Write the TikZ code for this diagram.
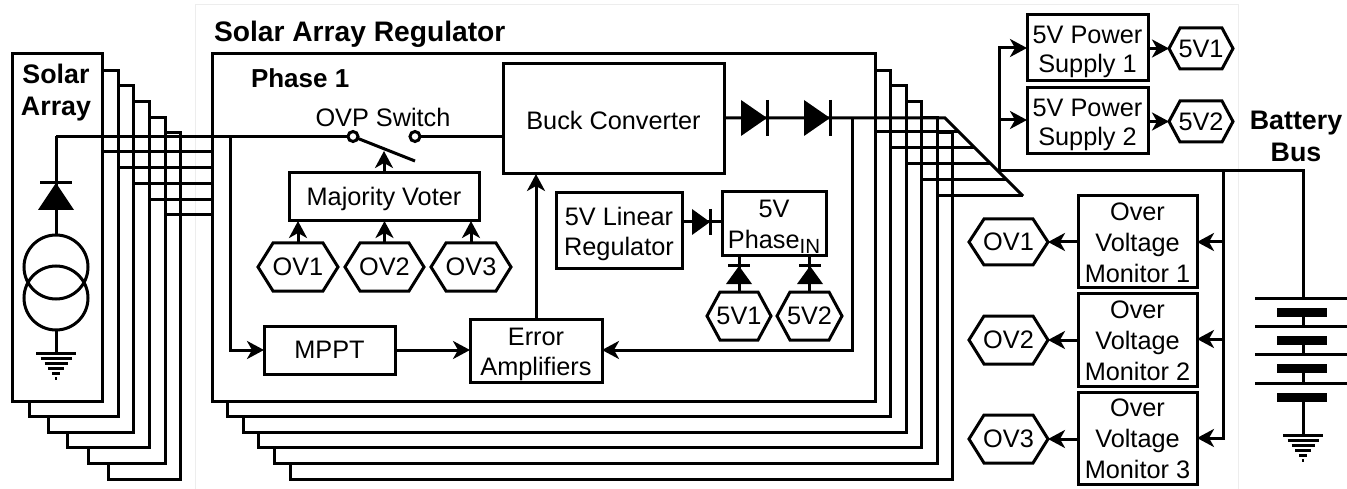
\documentclass[tikz,border=0pt]{standalone}
\usepackage{fontspec}
\setmainfont{Liberation Sans}
\usetikzlibrary{arrows.meta}
\tikzset{
  x=1pt,y=-1pt,
  wire/.style={line width=3pt,line cap=butt,line join=miter},
  arr/.style={wire,-{Stealth[length=17pt,width=18pt,inset=5pt]}},
  bx/.style={draw,line width=3pt,inner sep=0pt,outer sep=0pt},
  stk/.style={bx,fill=white,anchor=north west},
  lab/.style={inner sep=0pt,outer sep=0pt,align=center,font=\fontsize{25.3}{30}\selectfont},
  blab/.style={inner sep=0pt,outer sep=0pt,align=center,font=\fontsize{26.8}{32}\selectfont\bfseries},
  gridline/.style={draw=black!7,line width=1pt},
}
% name, x1, y1, x2, y2, text shift down, text
\newcommand{\boxn}[7]{\node[bx,minimum width={(#4-#2)*1pt},minimum height={(#5-#3)*1pt}] (#1) at ({(#2+#4)/2},{(#3+#5)/2}) {};
  \node[lab] (#1t) at ([yshift=-#6pt]#1.center) {#7};}
\newcommand{\stkn}[5]{\node[stk,minimum width={(#4-#2)*1pt},minimum height={(#5-#3)*1pt}] (#1) at (#2,#3) {};}
% name, x1, y1, x2, y2, inset, text
\newcommand{\hexn}[7]{%
  \node[lab,minimum width={(#4-#2)*1pt},minimum height={(#5-#3)*1pt}] (#1) at ({(#2+#4)/2},{(#3+#5)/2}) {#7};
  \draw[wire] (#1.west) -- ([xshift=#6pt]#1.north west) -- ([xshift=-#6pt]#1.north east) -- (#1.east) -- ([xshift=-#6pt]#1.south east) -- ([xshift=#6pt]#1.south west) -- cycle;}
% diodes: tip x,y, length, half width, bar half width
\newcommand{\dioR}[5]{\fill ({#1-#3},{#2-#4}) -- (#1,#2) -- ({#1-#3},{#2+#4}) -- cycle; \draw[wire] (#1,{#2-#5}) -- (#1,{#2+#5});}
\newcommand{\dioU}[5]{\fill ({#1-#4},{#2+#3}) -- (#1,#2) -- ({#1+#4},{#2+#3}) -- cycle; \draw[wire] ({#1-#5},#2) -- ({#1+#5},#2);}
\newcommand{\gnd}[2]{%
  \foreach \dy/\hw in {0/20,5/15.5,10/11.5,15/8,20/4,25/1}{\draw[line width=3pt] ({#1-\hw},{#2+\dy}) -- ({#1+\hw},{#2+\dy});}}
\begin{document}
\begin{tikzpicture}
\useasboundingbox (0,0) rectangle (1347,489);
% faint frame
\draw[gridline] (195,489) -- (195,5) -- (1238,5) -- (1238,489);
% solar stack
\stkn{sa6}{108}{133}{180}{479}
\stkn{sa5}{88}{118}{165}{463}
\stkn{sa4}{67}{102}{149}{447}
\stkn{sa3}{48}{86}{133}{432}
\stkn{sa2}{29}{71}{118}{416}
\stkn{sa1}{12}{54}{102}{401}
% regulator stack
\stkn{pb6}{290}{133}{952}{479}
\stkn{pb5}{274}{118}{937}{463}
\stkn{pb4}{258}{102}{921}{447}
\stkn{pb3}{243}{86}{906}{432}
\stkn{pb2}{227}{71}{890}{416}
\stkn{ph}{212}{54}{875}{401}
% blocks
\boxn{buck}{503}{64}{724}{174}{1}{Buck Converter}
\boxn{mv}{289}{173}{479}{221}{2}{Majority Voter}
\boxn{lin}{556}{193}{682}{269}{3}{5V Linear\\Regulator}
\boxn{pin}{722}{192}{826}{256}{0}{5V\\[1pt]Phase\smash{\raisebox{-5.5pt}{\fontsize{20.5}{20.5}\selectfont IN}}}
\boxn{mppt}{264}{326}{395}{374}{0}{MPPT}
\boxn{ea}{470}{319}{602}{382}{4}{Error\\Amplifiers}
\boxn{ps1}{1027}{15}{1148}{81}{4}{5V Power\\[-1pt]Supply 1}
\boxn{ps2}{1027}{88}{1148}{154}{4}{5V Power\\[-1pt]Supply 2}
\boxn{m1}{1078}{196}{1197}{287}{1}{Over\\[1pt]Voltage\\[1pt]Monitor 1}
\boxn{m2}{1078}{293}{1197}{386}{1}{Over\\[1pt]Voltage\\[1pt]Monitor 2}
\boxn{m3}{1078}{392}{1197}{484}{1}{Over\\[1pt]Voltage\\[1pt]Monitor 3}
% hexes
\hexn{ova}{258}{243}{338}{291}{15}{OV1}
\hexn{ovb}{345}{243}{424}{291}{15}{OV2}
\hexn{ovc}{431}{243}{511}{291}{15}{OV3}
\hexn{fa}{707}{292}{771}{340}{13}{5V1}
\hexn{fb}{777}{292}{842}{340}{13}{5V2}
\hexn{sa}{1169}{28}{1233}{69}{11}{5V1}
\hexn{sb}{1169}{101}{1233}{142}{11}{5V2}
\hexn{oa}{969}{219}{1048}{265}{15}{OV1}
\hexn{ob}{969}{316}{1048}{364}{15}{OV2}
\hexn{oc}{969}{415}{1048}{463}{15}{OV3}
% titles
\node[blab,anchor=west,font=\fontsize{28.2}{32}\selectfont\bfseries] (title) at (214,34) {Solar Array Regulator};
\node[blab,anchor=west,font=\fontsize{26}{32}\selectfont\bfseries] (phase) at (251,78) {Phase 1};
\node[blab] (sol) at (56,93) {Solar\\Array};
\node[blab] (bat) at (1296,136) {Battery\\Bus};
\node[lab] (ovp) at (383,117) {OVP Switch};
% solar cell
\coordinate (c1) at (56,267);
\coordinate (c2) at (56,298);
\coordinate (sw1) at (353,136.5);
\coordinate (sw2) at (415,136.5);
\coordinate (arm) at (415,161);
\coordinate (armhit) at (384,151);
\coordinate (st) at (56,136.5);
\coordinate (g1) at (56,353);
\draw[wire] (st) -- (sw1);
\draw[wire] (st) -- (56,235);
\dioU{56}{183}{27}{18}{16}
\draw[wire] (c1) circle[radius=32];
\draw[wire] (c2) circle[radius=32];
\draw[wire] (56,330) -- (g1);
\gnd{56}{353}
% bus from solar array stack to regulator
\draw[wire] ([yshift=-98pt]sa1.north east) coordinate (t) -- (t -| ph.west);
\draw[wire] ([yshift=-97pt]sa2.north east) coordinate (t) -- (t -| ph.west);
\draw[wire] ([yshift=-98pt]sa3.north east) coordinate (t) -- (t -| ph.west);
\draw[wire] ([yshift=-98pt]sa4.north east) coordinate (t) -- (t -| ph.west);
\draw[wire] ([yshift=-97pt]sa5.north east) coordinate (t) -- (t -| ph.west);
% switch
\draw[wire] (sw2) -- (sw2 -| buck.west);
\draw[wire] (sw1) -- (arm);
\draw[wire,fill=white] (sw1) circle[radius=5];
\draw[wire,fill=white] (sw2) circle[radius=5];
\draw[arr] (mv.north -| armhit) -- (armhit);
\draw[arr] (ova.north) -- (ova.north |- mv.south);
\draw[arr] (ovb.north) -- (ovb.north |- mv.south);
\draw[arr] (ovc.north) -- (ovc.north |- mv.south);
% MPPT
\coordinate (mt) at (230,136.5);
\draw[arr] (mt) |- (mppt.west);
\draw[arr] (mppt.east) -- (mppt.east -| ea.west);
\coordinate (eaup) at (536,319);
\draw[arr] (eaup) -- (eaup |- buck.south);
% buck output
\coordinate (dgT) at (945,118);
\coordinate (dgB) at (1023,196);
\draw[wire] (buck.east |- dgT) -- (dgT) -- (dgB);
\dioR{767}{118}{26}{18}{18}
\dioR{830}{118}{26}{18}{18}
\coordinate (fbk) at (852,118);
\draw[arr] (fbk) |- (ea.east |- 0,350);
\coordinate (d1) at (959,132);
\coordinate (d2) at (975,148);
\coordinate (d3) at (991,164);
\coordinate (d4) at (1007,180);
\draw[wire] (ph.east |- d1) -- (d1);
\draw[wire] (pb2.east |- d2) -- (d2);
\draw[wire] (pb3.east |- d3) -- (d3);
\draw[wire] (pb4.east |- d4) -- (d4);
\draw[wire] (pb5.east |- dgB) -- (dgB);
% linear regulator diode
\draw[wire] (lin.east |- 0,222) -- (pin.west |- 0,222);
\dioR{710}{222}{18}{13}{13}
\draw[wire] (fa.north) -- (fa.north |- pin.south);
\draw[wire] (fb.north) -- (fb.north |- pin.south);
\dioU{739}{266}{18}{13}{11}
\dioU{810}{266}{18}{13}{11}
% battery bus
\coordinate (bj) at (999,171);
\coordinate (bt) at (1303,171);
\coordinate (bp) at (1303,298);
\draw[wire] (bj) -- (bt) -- (bp);
\draw[arr] (bj) |- (ps1.west);
\draw[arr] (bj) |- (ps2.west |- 0,120);
\draw[arr] (ps1.east |- sa.west) -- (sa.west);
\draw[arr] (ps2.east |- sb.west) -- (sb.west);
\coordinate (vj) at (1223,171);
\draw[arr] (vj) |- (m1.east |- 0,242);
\draw[arr] (vj |- 0,240) |- (m2.east |- 0,339);
\draw[arr] (vj |- 0,338) |- (m3.east |- 0,438);
\draw[arr] (m1.west |- oa.east) -- (oa.east);
\draw[arr] (m2.west |- ob.east) -- (ob.east);
\draw[arr] (m3.west |- oc.east) -- (oc.east);
% battery
\foreach \yy in {298,326,354,383}{\draw[wire] (1255,\yy) -- (1347,\yy);}
\foreach \yy in {312,340,368,397}{\fill (1277,{\yy-4.5}) rectangle (1327,{\yy+4.5});}
\foreach \yy in {312,340,368}{\draw[wire] (1303,\yy) -- (1303,{\yy+15});}
\draw[wire] (1303,397) -- (1303,435);
\gnd{1303}{435}
\end{tikzpicture}
\end{document}
